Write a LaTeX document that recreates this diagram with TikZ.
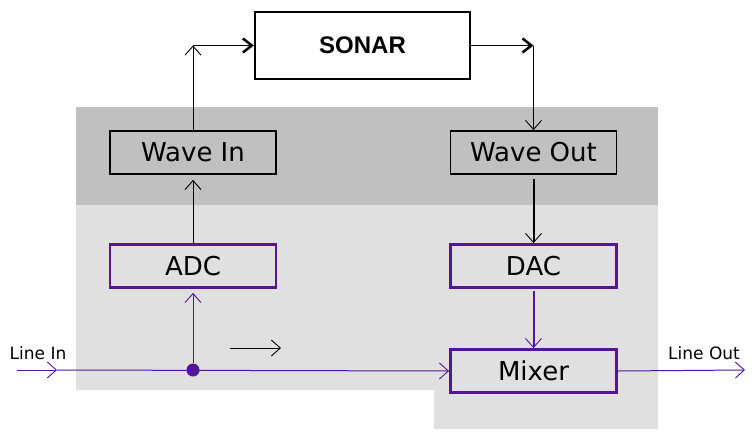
\documentclass[tikz,border=0pt]{standalone}
\usepackage{xcolor}
\usepackage{fontspec}
\setmainfont{DejaVu Sans}
\newfontfamily\sonarfont{Liberation Sans}
\usepackage{tikz}
\usetikzlibrary{arrows.meta}

\definecolor{darkbg}{RGB}{192,192,192}
\definecolor{lightbg}{RGB}{224,224,224}
\definecolor{sigpurple}{RGB}{82,22,150}

\tikzset{
  thinhead/.tip={Straight Barb[length=9pt,width=16pt,line width=0.9pt]},
  boldhead/.tip={Straight Barb[length=9pt,width=14pt,line width=2.5pt]},
  blackbox/.style={draw=black, line width=1.8pt, minimum width=166pt, minimum height=43pt,
    inner sep=0pt, font=\fontsize{26}{30}\selectfont},
  purplebox/.style={blackbox, draw=sigpurple, line width=2.8pt},
  wire/.style={line width=1pt, -thinhead},
  pwire/.style={wire, draw=sigpurple},
  label/.style={font=\fontsize{17}{20}\selectfont, inner sep=0pt}
}

\begin{document}
\begin{tikzpicture}[x=1pt, y=-1pt]
            \useasboundingbox (0,0) rectangle (754,434);

            % shaded areas
            \fill[darkbg] (76,107) rectangle (658,205);
            \fill[lightbg] (76,205) -- (658,205) -- (658,429) -- (434,429) -- (434,390) -- (76,390) -- cycle;

            \node[draw, line width=2.2pt, minimum width=215pt, minimum height=67pt,
                  font=\sonarfont\bfseries\fontsize{24}{28}\selectfont] (sonar) at (362.5,45.5) {SONAR};

            \node[blackbox] (wavein) at (193,152.5) {Wave In};
            \node[blackbox] (waveout) at (533.5,152.5) {Wave Out};
            \node[purplebox] (adc) at (193,266) {ADC};
            \node[purplebox] (dac) at (533.5,266) {DAC};
            \node[purplebox] (mixer) at (533.5,371) {Mixer};

            \coordinate (up) at (wavein.north |- sonar.west);
            \coordinate (down) at (waveout.north |- sonar.east);
            \draw[wire] (wavein.north) -- (up);
            \draw[line width=1.8pt, -boldhead] (up) -- (sonar.west);
            \draw[line width=1.8pt, -boldhead] (sonar.east) -- (down);
            \draw[wire] (down) -- (waveout.north);
            \draw[line width=2pt, -thinhead, shorten <=4pt] (waveout.south) -- (dac.north);
            \draw[line width=2pt, draw=sigpurple, -thinhead, shorten <=2pt] (dac.south) -- (mixer.north);
            \draw[wire, shorten >=5pt] (adc.north) -- (wavein.south);

            % signal path
            \coordinate (linein) at (17,370);
            \coordinate (inhead) at (57,370);
            \coordinate (lineout) at (745,370);
            \node[circle, fill=sigpurple, inner sep=0pt, minimum size=13pt] (tap) at (193,370) {};
            \draw[pwire] (linein) -- (inhead);
            \draw[pwire] (inhead) -- (mixer.west);
            \draw[pwire, shorten >=4pt] (tap) -- (adc.south);
            \draw[pwire] (mixer.east) -- (lineout);

            \node[label] (inlabel) at (38,353) {Line In};
            \node[label] (outlabel) at (704,353) {Line Out};

            \coordinate (flowa) at (230,348);
            \coordinate (flowb) at (281,348);
            \draw[wire] (flowa) -- (flowb);
         \end{tikzpicture}
\end{document}
